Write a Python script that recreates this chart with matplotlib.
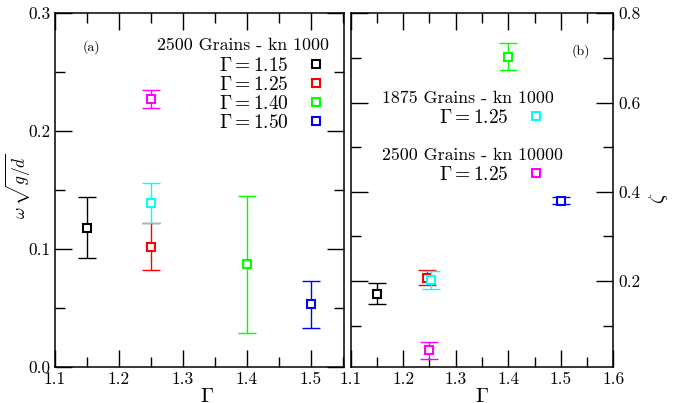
import numpy as np
import matplotlib
matplotlib.use('Agg')
import matplotlib.pyplot as plt
from matplotlib.legend import Legend
from matplotlib.ticker import MultipleLocator, FormatStrFormatter

plt.rcParams['font.family'] = 'cmr10'
plt.rcParams['mathtext.fontset'] = 'cm'
plt.rcParams['axes.formatter.use_mathtext'] = True

# ── Data: 2500 grains, kn 1000 ────────────────────────────────────
gammas = [1.15, 1.25, 1.40, 1.50]
gamma_labels = ['1.15', '1.25', '1.40', '1.50']
colors = ['black', 'red', '#00ff00', 'blue']
omega = [0.118, 0.102, 0.087, 0.053]
omega_err = [0.026, 0.020, 0.058, 0.020]
zeta_x = [1.15, 1.245, 1.40, 1.50]
zeta = [0.172, 0.207, 0.703, 0.380]
zeta_err = [0.023, 0.017, 0.031, 0.008]

# ── Extra runs at Gamma = 1.25 ───────────────────────────────────
main_name = '2500 Grains - kn 1000'
extra_names = ['1875 Grains - kn 1000', '2500 Grains - kn 10000']
extra_colors = ['cyan', 'magenta']
extra_gamma = [1.25, 1.25]
extra_omega = [0.139, 0.227]
extra_omega_err = [0.017, 0.0075]
extra_zeta_x = [1.253, 1.25]
extra_zeta = [0.202, 0.045]
extra_zeta_err = [0.021, 0.019]

MS = 6
MEW = 1.5
CAP = 6.5
LEG_KW = dict(frameon=False, markerfirst=False, fontsize=14,
              handlelength=1.0, handletextpad=0.89, labelspacing=0.05,
              borderaxespad=0, borderpad=0, loc='upper right')


def point(ax, x, y, err, color, label=None):
    ax.errorbar(x, y, yerr=err, fmt='none', ecolor=color, elinewidth=1,
                capsize=CAP, capthick=1)
    h, = ax.plot(x, y, 's', ms=MS, mfc='white', mec=color, mew=MEW,
                 label=label, linestyle='none')
    return h


def style_axis(ax):
    ax.tick_params(which='both', direction='in', top=True, right=True,
                   width=1, labelsize=12.5)
    ax.tick_params(which='major', length=12.5)
    ax.tick_params(which='minor', length=7)
    for sp in ax.spines.values():
        sp.set_linewidth(1.1)
    ax.xaxis.set_major_locator(MultipleLocator(0.1))
    ax.xaxis.set_minor_locator(MultipleLocator(0.05))
    ax.xaxis.set_major_formatter(FormatStrFormatter('%.1f'))
    ax.yaxis.set_major_formatter(FormatStrFormatter('%.1f'))


fig = plt.figure(figsize=(6.85, 4.03), dpi=100)
ax1 = fig.add_axes([0.0803, 0.0901, 0.4219, 0.8769])
ax2 = fig.add_axes([0.5120, 0.0901, 0.3833, 0.8769])

# ── (a) frequency ─────────────────────────────────────────────────
handles = []
for x, y, e, c, g in zip(gammas, omega, omega_err, colors, gamma_labels):
    handles.append(point(ax1, x, y, e, c, r'$\Gamma = %s$' % g))
for x, y, e, c in zip(extra_gamma, extra_omega, extra_omega_err, extra_colors):
    point(ax1, x, y, e, c)

ax1.set_xlim(1.1, 1.5516)
ax1.set_ylim(0.0, 0.3)
style_axis(ax1)
ax1.yaxis.set_major_locator(MultipleLocator(0.1))
ax1.yaxis.set_minor_locator(MultipleLocator(0.05))
ax1.set_xlabel(r'$\Gamma$', fontsize=15)
ax1.xaxis.set_label_coords(0.526, -0.060)
ax1.set_ylabel(r'$\omega\,\sqrt{g/d}$', fontsize=12.5)
ax1.yaxis.set_label_coords(-0.076, 0.511)
ax1.text(0.127, 0.903, '(a)', transform=ax1.transAxes, fontsize=10,
         ha='center', va='center')
ax1.text(0.352, 0.910, main_name, transform=ax1.transAxes, fontsize=12.8,
         ha='left', va='center')
ax1.legend(handles=handles, bbox_to_anchor=(0.937, 0.877), **LEG_KW)

# ── (b) zeta ──────────────────────────────────────────────────────
for x, y, e, c in zip(zeta_x, zeta, zeta_err, colors):
    point(ax2, x, y, e, c)
extra_handles = []
for x, y, e, c in zip(extra_zeta_x, extra_zeta, extra_zeta_err, extra_colors):
    extra_handles.append(point(ax2, x, y, e, c, r'$\Gamma = 1.25$'))

ax2.set_xlim(1.1, 1.6)
ax2.set_ylim(0.008, 0.8)
style_axis(ax2)
ax2.yaxis.set_major_locator(MultipleLocator(0.2))
ax2.yaxis.set_minor_locator(MultipleLocator(0.1))
ax2.yaxis.tick_right()
ax2.yaxis.set_label_position('right')
ax2.tick_params(which='both', left=True, right=True)
ax2.set_xlabel(r'$\Gamma$', fontsize=15)
ax2.xaxis.set_label_coords(0.5, -0.060)
ax2.set_ylabel(r'$\zeta$', fontsize=15, rotation=90)
ax2.yaxis.set_label_coords(1.128, 0.477)
ax2.text(0.877, 0.893, '(b)', transform=ax2.transAxes, fontsize=10,
         ha='center', va='center')

title_y = [0.760, 0.599]
entry_top = [0.730, 0.569]
for h, name, ty, ey in zip(extra_handles, extra_names, title_y, entry_top):
    ax2.text(0.118, ty, name, transform=ax2.transAxes, fontsize=12.8,
             ha='left', va='center')
    lg = Legend(ax2, [h], [h.get_label()], bbox_to_anchor=(0.741, ey),
                **LEG_KW)
    ax2.add_artist(lg)

fig.savefig('out.png', dpi=100)
